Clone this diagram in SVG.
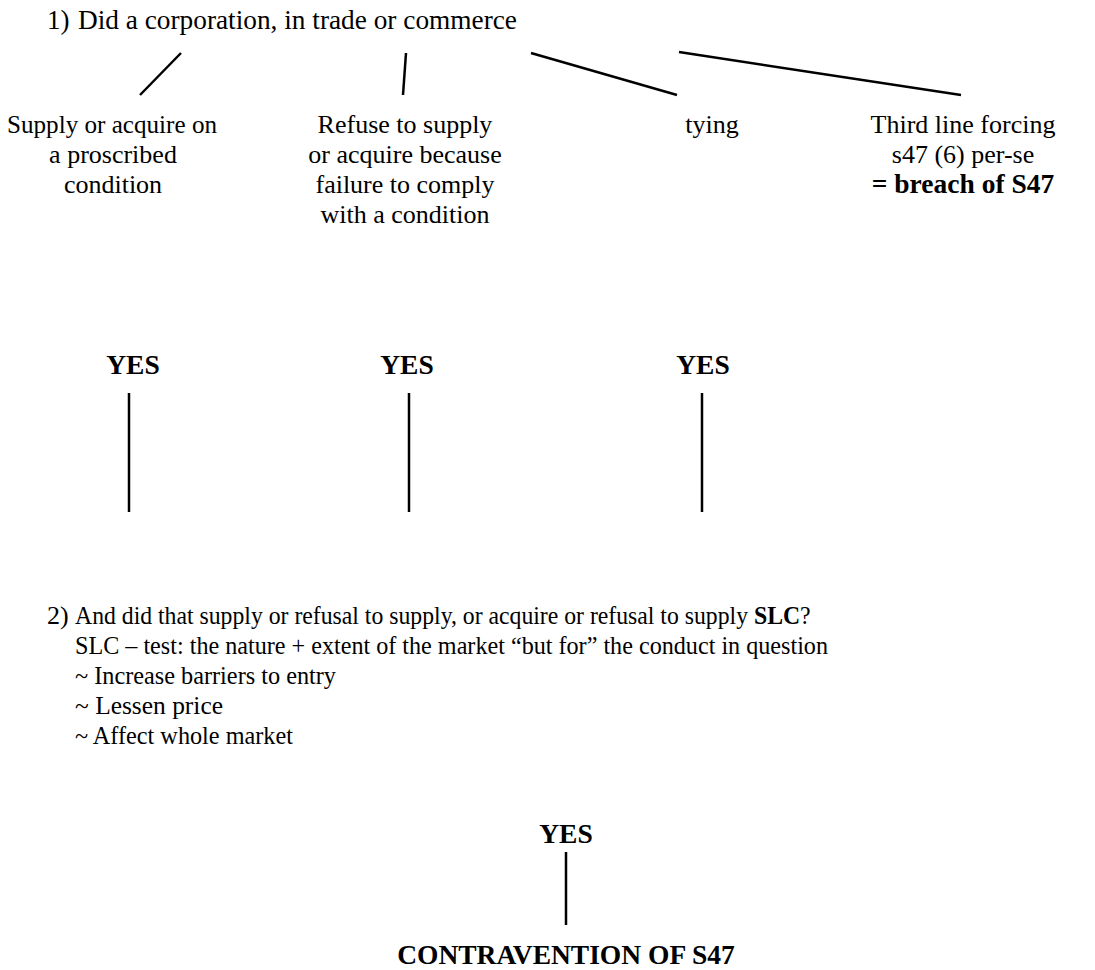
<svg xmlns="http://www.w3.org/2000/svg" width="1095" height="970" viewBox="0 0 1095 970">
<style>
text{font-family:"Liberation Serif","Times New Roman",serif;font-size:26px;fill:#000}
.t{font-size:27px}
.c{text-anchor:middle}
.b{font-weight:bold;font-size:27.5px}
line{stroke:#000;stroke-width:2.5;fill:none}
</style>
<rect width="1095" height="970" fill="#fff"/>
<g id="q1"><text class="t" x="47" y="29">1)</text><text class="t" x="78" y="29" textLength="439" lengthAdjust="spacingAndGlyphs">Did a corporation, in trade or commerce</text></g>
<g id="n1"><text class="c" x="112" y="133" textLength="210" lengthAdjust="spacingAndGlyphs">Supply or acquire on</text><text class="c" x="113" y="163">a proscribed</text><text class="c" x="113" y="193">condition</text></g>
<g id="n2"><text class="c" x="405" y="133">Refuse to supply</text><text class="c" x="405" y="163">or acquire because</text><text class="c" x="405" y="193">failure to comply</text><text class="c" x="405" y="223">with a condition</text></g>
<g id="n3"><text class="c" x="712" y="133">tying</text></g>
<g id="n4"><text class="c" x="963" y="133">Third line forcing</text><text class="c" x="963" y="163">s47 (6) per-se</text><text class="c b" x="963" y="193">= breach of S47</text></g>
<g id="y1"><text class="c b" x="133" y="374">YES</text></g>
<g id="y2"><text class="c b" x="407" y="374">YES</text></g>
<g id="y3"><text class="c b" x="703" y="374">YES</text></g>
<g id="q2"><text x="47" y="624">2)</text><text transform="translate(75,624) scale(0.913,1)" x="0" y="0">And did that supply or refusal to supply, or acquire or refusal to supply <tspan font-weight="bold">SLC</tspan>?</text>
<text x="75" y="654" textLength="753" lengthAdjust="spacingAndGlyphs">SLC – test: the nature + extent of the market “but for” the conduct in question</text>
<text x="75" y="684" textLength="261" lengthAdjust="spacingAndGlyphs">~ Increase barriers to entry</text>
<text x="75" y="714" textLength="148" lengthAdjust="spacingAndGlyphs">~ Lessen price</text>
<text x="75" y="744" textLength="218" lengthAdjust="spacingAndGlyphs">~ Affect whole market</text></g>
<g id="y4"><text class="c b" x="566" y="843">YES</text></g>
<g id="res"><text class="c b" x="566" y="964">CONTRAVENTION OF S47</text></g>
<g id="connectors">
<line x1="181" y1="53" x2="140" y2="95"/>
<line x1="406" y1="53" x2="403" y2="95"/>
<line x1="531" y1="53" x2="677" y2="95"/>
<line x1="679" y1="52" x2="961" y2="95"/>
<line x1="129" y1="393" x2="129" y2="512"/>
<line x1="409" y1="393" x2="409" y2="512"/>
<line x1="702" y1="393" x2="702" y2="512"/>
<line x1="566" y1="852" x2="566" y2="925"/>
</g>
</svg>
